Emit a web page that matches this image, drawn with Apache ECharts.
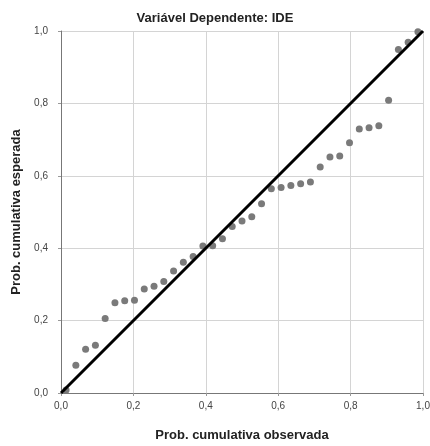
<!DOCTYPE html>
<html>
<head>
<meta charset="utf-8">
<script src="https://cdn.jsdelivr.net/npm/echarts@6/dist/echarts.min.js"></script>
<style>html,body{margin:0;padding:0;background:#fff}#c{width:430px;height:446px}</style>
</head>
<body>
<div id="c"></div>
<script>
var observed = [0.014,0.041,0.068,0.095,0.122,0.149,0.176,0.203,0.230,0.257,0.284,0.311,0.338,0.365,0.392,0.419,0.446,0.473,0.500,0.527,0.554,0.581,0.608,0.635,0.662,0.689,0.716,0.743,0.770,0.797,0.824,0.851,0.878,0.905,0.932,0.959,0.986];
var expected = [0.008,0.077,0.121,0.132,0.206,0.249,0.255,0.256,0.287,0.295,0.308,0.337,0.361,0.377,0.406,0.407,0.426,0.460,0.475,0.487,0.523,0.564,0.568,0.573,0.578,0.583,0.624,0.652,0.655,0.691,0.729,0.733,0.738,0.809,0.949,0.969,0.998];
var refLine = [[0,0],[1,1]];
var titleText = 'Variável Dependente: IDE';
var xName = 'Prob. cumulativa observada';
var yName = 'Prob. cumulativa esperada';

var pts = observed.map(function(x,i){return [x, expected[i]];});
var fmt = function(v){return v.toFixed(1).replace('.',',');};
var font = 'Liberation Sans, Arial, sans-serif';
function axis(name, gap, margin){
  return {
    type:'value', min:0, max:1, interval:0.2,
    name:name, nameLocation:'middle', nameGap:gap,
    nameTextStyle:{fontFamily:font, fontSize:13, fontWeight:'bold', color:'#222'},
    axisLine:{show:true, lineStyle:{color:'#777', width:1}},
    axisTick:{show:true, length:3, lineStyle:{color:'#999'}},
    axisLabel:{formatter:fmt, fontFamily:font, fontSize:10, color:'#444', margin:margin},
    splitLine:{show:true, lineStyle:{color:'#d4d4d4', width:1}}
  };
}
var chart = echarts.init(document.getElementById('c'), null, {renderer:'canvas'});
chart.setOption({
  animation:false,
  backgroundColor:'#fff',
  title:{text:titleText, left:'center', top:7, textStyle:{fontFamily:font, fontSize:13, fontWeight:'bold', color:'#222'}},
  grid:{left:61, right:7, top:31, bottom:53, containLabel:false, outerBoundsMode:'none'},
  xAxis: axis(xName, 36, 8),
  yAxis: axis(yName, 34, 13),
  series:[
    {type:'scatter', data:pts, symbolSize:7, itemStyle:{color:'#7a7a7a', opacity:1}, z:2},
    {type:'line', data:refLine, showSymbol:false, symbol:'none', lineStyle:{color:'#000', width:3}, z:3}
  ]
});
</script>
</body>
</html>
